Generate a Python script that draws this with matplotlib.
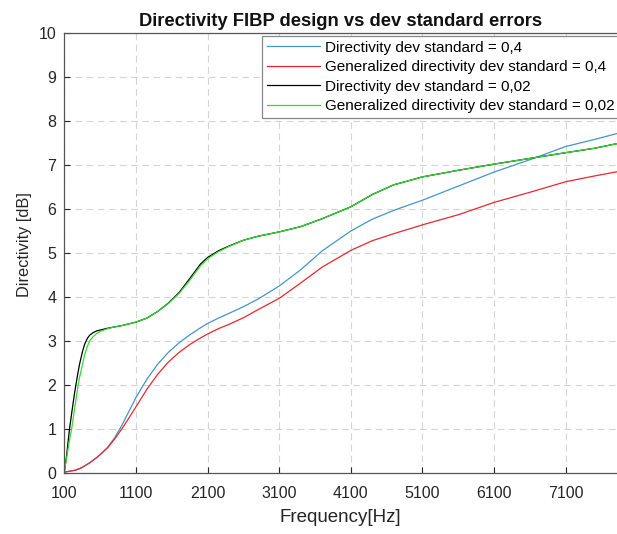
import matplotlib
matplotlib.use("Agg")
import matplotlib.pyplot as plt

plt.rcParams['font.family'] = ['Liberation Sans', 'DejaVu Sans']

freq = [100, 130, 170, 200, 240, 280, 310, 350, 380, 420, 450, 500, 550, 600,
        700, 800, 900, 1000, 1100, 1250, 1400, 1550, 1700, 1850, 2000, 2100,
        2250, 2400, 2600, 2800, 3100, 3400, 3700, 4100, 4400, 4700, 5100,
        5600, 6100, 6600, 7100, 7500, 7830]

dir_04 = [0.02, 0.03, 0.04, 0.05, 0.06, 0.08, 0.10, 0.13, 0.16, 0.20, 0.23, 0.29,
          0.35, 0.42, 0.58, 0.80, 1.08, 1.40, 1.72, 2.13, 2.47, 2.74, 2.96, 3.14,
          3.30, 3.40, 3.52, 3.63, 3.78, 3.95, 4.25, 4.62, 5.05, 5.50, 5.77, 5.97,
          6.20, 6.52, 6.84, 7.12, 7.42, 7.58, 7.72]

gen_04 = [0.02, 0.03, 0.04, 0.05, 0.06, 0.08, 0.10, 0.13, 0.16, 0.20, 0.23, 0.29,
          0.35, 0.42, 0.57, 0.77, 1.00, 1.25, 1.51, 1.90, 2.24, 2.52, 2.74, 2.92,
          3.07, 3.16, 3.28, 3.38, 3.53, 3.71, 3.97, 4.32, 4.68, 5.06, 5.28, 5.44,
          5.64, 5.87, 6.15, 6.38, 6.62, 6.75, 6.85]

dir_002 = [0.05, 0.40, 1.00, 1.35, 1.81, 2.20, 2.47, 2.75, 2.92, 3.06, 3.13, 3.19,
           3.23, 3.25, 3.29, 3.32, 3.35, 3.39, 3.43, 3.52, 3.67, 3.86, 4.10, 4.42,
           4.75, 4.90, 5.05, 5.16, 5.29, 5.38, 5.48, 5.60, 5.78, 6.05, 6.33, 6.55,
           6.73, 6.88, 7.02, 7.15, 7.28, 7.38, 7.49]

gen_002 = [0.05, 0.35, 0.75, 1.00, 1.45, 1.88, 2.17, 2.45, 2.68, 2.88, 3.00, 3.10,
           3.17, 3.22, 3.28, 3.32, 3.35, 3.39, 3.43, 3.52, 3.67, 3.85, 4.08, 4.38,
           4.71, 4.87, 5.03, 5.15, 5.29, 5.38, 5.48, 5.60, 5.78, 6.05, 6.33, 6.55,
           6.73, 6.88, 7.02, 7.15, 7.28, 7.38, 7.49]

labels = ["Directivity dev standard = 0,4",
          "Generalized directivity dev standard = 0,4",
          "Directivity dev standard = 0,02",
          "Generalized directivity dev standard = 0,02"]
colors = ["#4396c8", "#e8282e", "#000000", "#2fdc2f"]

xticks = [100, 1100, 2100, 3100, 4100, 5100, 6100, 7100]
yticks = list(range(0, 11))

fig = plt.figure(figsize=(6.17, 5.34), dpi=100)
ax = fig.add_axes([0.1045, 0.1142, 0.8955, 0.8240])

for ys, c, lab in zip([dir_04, gen_04, dir_002, gen_002], colors, labels):
    ax.plot(freq, ys, color=c, lw=0.9, label=lab)

ax.set_xlim(100, 7817)
ax.set_ylim(0, 10)
ax.set_xticks(xticks)
ax.set_xticklabels([str(t) for t in xticks])
ax.set_yticks(yticks)
ax.tick_params(direction='in', length=4, width=0.8, colors='#262626',
               labelsize=11.5, labelcolor='#262626')
ax.tick_params(axis='x', pad=9)
ax.tick_params(axis='y', pad=6)
ax.grid(True, linestyle=(0, (6, 4)), color='#d4d4d4', lw=0.8)
for s in ['left', 'bottom', 'top']:
    ax.spines[s].set_color('#555555')
    ax.spines[s].set_linewidth(0.9)
ax.spines['right'].set_visible(False)

ax.set_xlabel("Frequency[Hz]", fontsize=13.5, color='#262626', labelpad=6)
ax.set_ylabel("Directivity [dB]", fontsize=11.8, color='#262626')
ax.yaxis.set_label_coords(-0.059, 0.52)
ax.set_title("Directivity FIBP design vs dev standard errors", fontsize=13.2,
             fontweight='bold', color='#111111', pad=5)

leg = ax.legend(loc='upper left', bbox_to_anchor=((262 - 64.5) / 552.5, (473 - 36) / 440),
                borderaxespad=0, fontsize=11, handlelength=3.5, handletextpad=0.3,
                labelspacing=0.36, borderpad=0.3, fancybox=False, framealpha=1,
                edgecolor='#888888')
leg.get_frame().set_linewidth(0.9)

fig.savefig("out.png", dpi=100)
